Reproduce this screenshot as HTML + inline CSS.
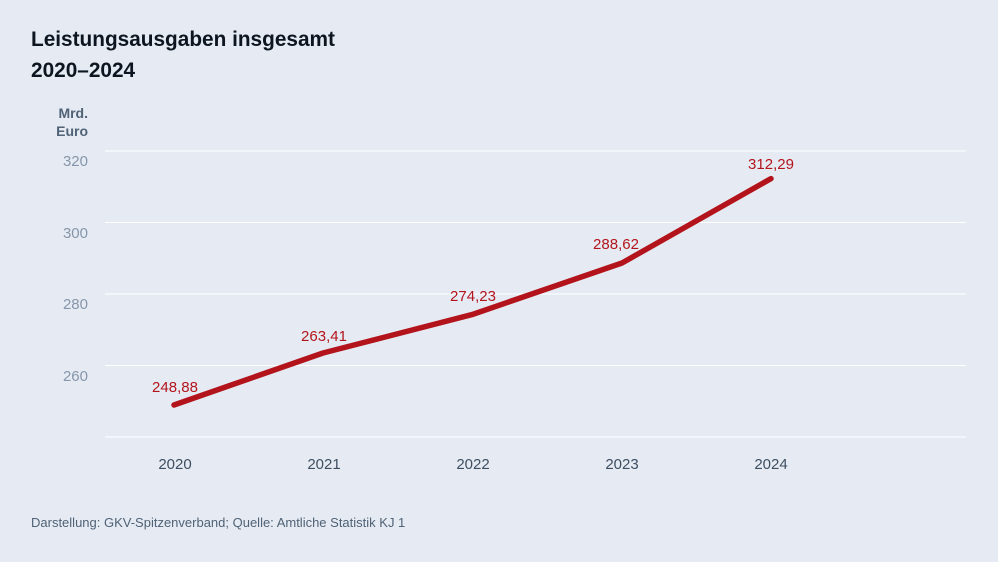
<!DOCTYPE html>
<html><head><meta charset="utf-8"><style>
body{margin:0;background:#e6ebf3;}
svg{display:block;font-family:"Liberation Sans",sans-serif;}
</style></head><body>
<svg width="998" height="562" viewBox="0 0 998 562">
<rect width="998" height="562" fill="#e6ebf3"/>
<text x="31" y="46" font-size="20.8" font-weight="bold" fill="#0d1520">Leistungsausgaben insgesamt</text>
<text x="31" y="77" font-size="20.8" font-weight="bold" fill="#0d1520">2020–2024</text>
<text x="88" y="118" font-size="14" font-weight="bold" fill="#4f6276" text-anchor="end">Mrd.</text>
<text x="88" y="136" font-size="14" font-weight="bold" fill="#4f6276" text-anchor="end">Euro</text>
<g stroke="#ffffff" stroke-width="1">
<line x1="105" x2="966" y1="151" y2="151"/>
<line x1="105" x2="966" y1="222.5" y2="222.5"/>
<line x1="105" x2="966" y1="294" y2="294"/>
<line x1="105" x2="966" y1="365.5" y2="365.5"/>
<line x1="105" x2="966" y1="437" y2="437"/>
</g>
<g font-size="15" fill="#8696aa" text-anchor="end">
<text x="88" y="166">320</text>
<text x="88" y="238">300</text>
<text x="88" y="309">280</text>
<text x="88" y="381">260</text>
</g>
<g font-size="15" fill="#3e4e60" text-anchor="middle">
<text x="175" y="469">2020</text>
<text x="324" y="469">2021</text>
<text x="473" y="469">2022</text>
<text x="622" y="469">2023</text>
<text x="771" y="469">2024</text>
</g>
<polyline points="174,405 323,353 472,314.6 622,263 771,178.6" fill="none" stroke="#b3141c" stroke-width="5.5" stroke-linecap="round" stroke-linejoin="round"/>
<g font-size="15" fill="#b3141c" text-anchor="middle">
<text x="175" y="392">248,88</text>
<text x="324" y="341">263,41</text>
<text x="473" y="301">274,23</text>
<text x="616" y="249">288,62</text>
<text x="771" y="169">312,29</text>
</g>
<text x="31" y="527" font-size="13" fill="#4f6276">Darstellung: GKV-Spitzenverband; Quelle: Amtliche Statistik KJ 1</text>
</svg>
</body></html>
